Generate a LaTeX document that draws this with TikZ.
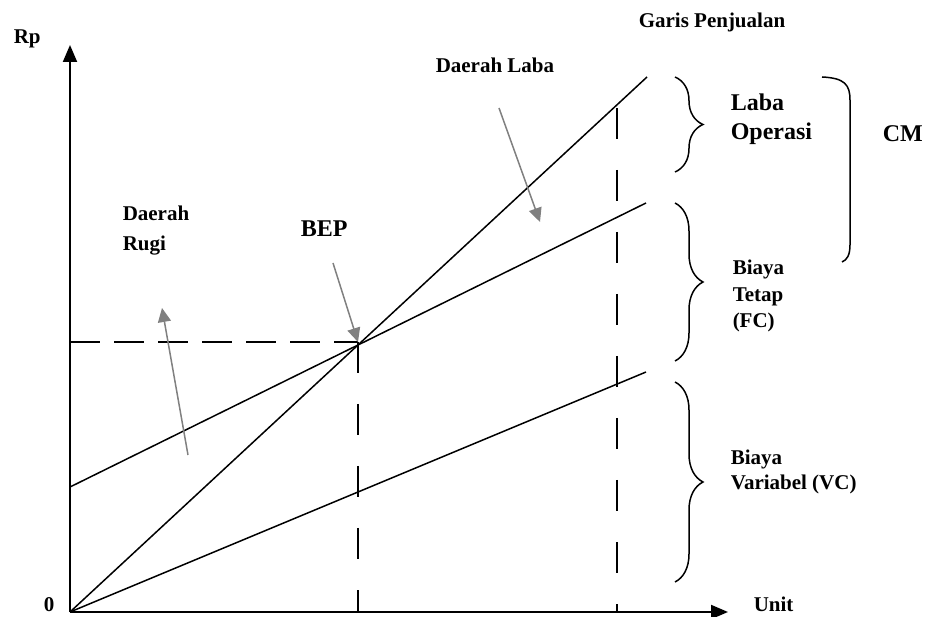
\documentclass[tikz,border=0pt]{standalone}
\usepackage{fontspec}
\setmainfont{Liberation Serif}
\usepackage{tikz}
\usetikzlibrary{arrows.meta, decorations.pathreplacing}

\tikzset{
  lbl/.style={font=\fontsize{21}{26}\selectfont\bfseries, inner sep=0pt, align=left, anchor=base west},
  biglbl/.style={font=\fontsize{24}{29}\selectfont\bfseries, inner sep=0pt, align=left, anchor=base west},
  axis/.style={-{Triangle[length=17pt,width=14pt]}, line width=2pt},
  guideh/.style={line width=1.5pt, dash pattern=on 30pt off 14pt},
  guidev/.style={line width=1.5pt, dash pattern=on 31pt off 31pt},
  pointer/.style={-{Triangle[length=14pt,width=13pt]}, line width=1.5pt, gray},
  bracebox/.style={decorate, decoration={brace, amplitude=28pt}, line width=1.5pt}
}

\begin{document}
\begin{tikzpicture}[x=1pt, y=-1pt, line width=1.5pt]
  \useasboundingbox (0,0) rectangle (927,617);

  % Points
  \coordinate (O) at (70,612);
  \coordinate (ytip) at (70,45);
  \coordinate (xtip) at (728,612);
  \coordinate (bep) at (358,342);
  \coordinate (fc0) at (70,342);
  \coordinate (bepfoot) at (358,612);
  \coordinate (tc0) at (70,487);
  \coordinate (tc1) at (646,203);
  \coordinate (sl1) at (647,77);
  \coordinate (vc1) at (646,372);
  \coordinate (qtop) at (617,108);
  \coordinate (qfoot) at (617,612);

  % Lines
  \draw (O) -- (sl1);
  \draw (tc0) -- (tc1);
  \draw (O) -- (vc1);
  \draw[guideh] (fc0) -- (bep);
  \draw[guidev] (bep) -- (bepfoot);
  \draw[guidev] (qtop) -- (qfoot);

  % Axes
  \draw[axis] (O) -- (ytip);
  \draw[axis] (O) -- (xtip);
  \node[lbl] (rp) at (13,44) {Rp};
  \node[lbl] (zero) at (43,611) {0};
  \node[lbl] (unit) at (753,611) {Unit};

  % Labels (multi-line ones sit on their last baseline)
  \node[lbl] (garis) at (638,28) {Garis Penjualan};
  \node[lbl] (laba) at (435,73) {Daerah Laba};
  \node[lbl, font=\fontsize{21}{30}\selectfont\bfseries] (rugi) at (122,251) {Daerah\\Rugi};
  \node[biglbl] (beplbl) at (300,237) {BEP};
  \node[biglbl] (opr) at (730,140) {Laba\\Operasi};
  \node[biglbl] (cm) at (882,142) {CM};
  \node[lbl, font=\fontsize{21}{26.5}\selectfont\bfseries] (fc) at (732,328) {Biaya\\Tetap\\(FC)};
  \node[lbl, font=\fontsize{21}{25}\selectfont\bfseries] (vc) at (730,490) {Biaya\\Variabel (VC)};

  % Pointers
  \coordinate (labafrom) at (499,108);
  \coordinate (labato) at (540,222);
  \coordinate (rugifrom) at (188,455);
  \coordinate (rugito) at (162,308);
  \coordinate (bepfrom) at (333,263);
  \draw[pointer] (labafrom) -- (labato);
  \draw[pointer] (rugifrom) -- (rugito);
  \draw[pointer] (bepfrom) -- (bep);

  % Braces
  \draw[bracebox] (675,77) -- (675,172);
  \draw[bracebox] (675,203) -- (675,361);
  \draw[bracebox] (675,382) -- (675,582);
  \draw (822,77) .. controls (845,78) and (850,85) .. (850,100) -- (850,245)
        .. controls (850,255) and (847,260) .. (842,262);
\end{tikzpicture}
\end{document}
